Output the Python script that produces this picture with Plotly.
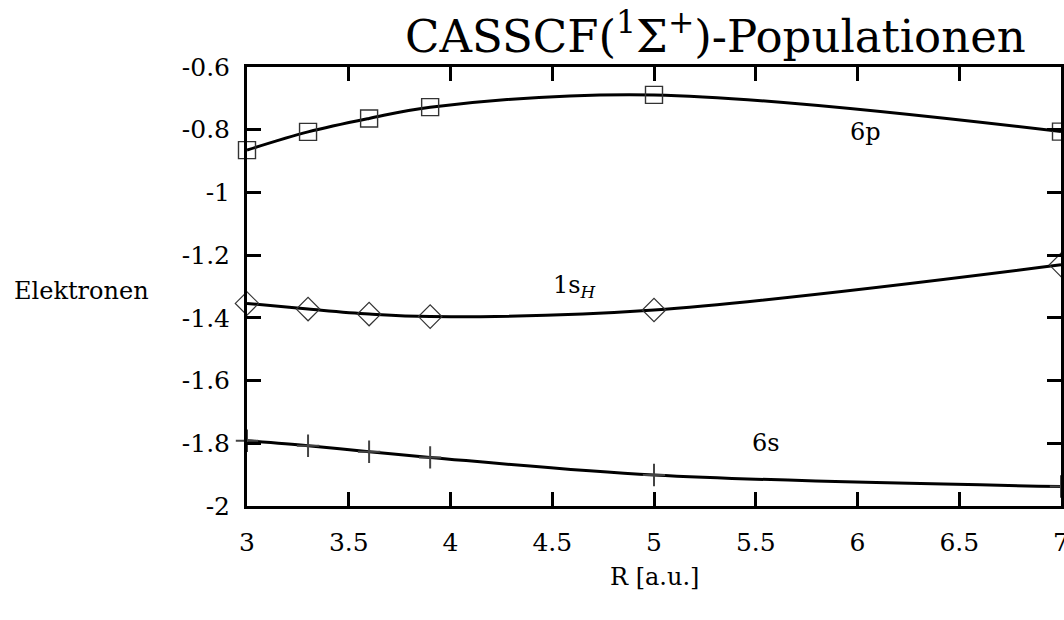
import plotly.graph_objects as go

# Bond distance R in atomic units
r_values = [3.0, 3.3, 3.6, 3.9, 5.0, 7.0]

# Orbital populations (electrons)
pop_6p = [-0.865, -0.807, -0.764, -0.728, -0.689, -0.806]
pop_1sH = [-1.354, -1.372, -1.388, -1.396, -1.375, -1.231]
pop_6s = [-1.792, -1.808, -1.827, -1.845, -1.901, -1.938]

x_ticks = [3, 3.5, 4, 4.5, 5, 5.5, 6, 6.5, 7]
x_tick_text = ["3", "3.5", "4", "4.5", "5", "5.5", "6", "6.5", "7"]
y_ticks = [-0.6, -0.8, -1.0, -1.2, -1.4, -1.6, -1.8, -2.0]
y_tick_text = ["-0.6", "-0.8", "-1", "-1.2", "-1.4", "-1.6", "-1.8", "-2"]

# Curve labels: (text, x, y)
curve_labels = [
    ("6p", 6.04, -0.807),
    ("1s<sub><i>H</i></sub>", 4.61, -1.301),
    ("6s", 5.55, -1.799),
]

FONT = "DejaVu Serif"

fig = go.Figure()

series = [
    (pop_6p, "square-open", 17, 1.4, "#333333"),
    (pop_1sH, "diamond-open", 18, 1.2, "#333333"),
    (pop_6s, "cross-thin-open", 16, 2.0, "#444444"),
]
for values, symbol, size, mlw, mcolor in series:
    fig.add_trace(go.Scatter(
        x=r_values, y=values,
        mode="lines",
        line=dict(color="black", width=3, shape="spline", smoothing=1.0),
        showlegend=False, hoverinfo="skip",
    ))
    fig.add_trace(go.Scatter(
        x=r_values, y=values,
        mode="markers",
        marker=dict(symbol=symbol, size=size, color=mcolor,
                    line=dict(color=mcolor, width=mlw)),
        cliponaxis=False,
        showlegend=False,
    ))

for text, lx, ly in curve_labels:
    fig.add_annotation(x=lx, y=ly, xref="x", yref="y", text=text,
                       showarrow=False, font=dict(family=FONT, size=24, color="black"))

fig.add_annotation(x=0.576, y=1.077, xref="paper", yref="paper",
                   text="CASSCF(<sup>1</sup>Σ<sup>+</sup>)-Populationen",
                   showarrow=False, xanchor="center", yanchor="middle",
                   font=dict(family=FONT, size=45, color="black"))
fig.add_annotation(x=-0.289, y=0.49, xref="paper", yref="paper",
                   text="Elektronen", showarrow=False,
                   xanchor="left", yanchor="middle",
                   font=dict(family=FONT, size=24, color="black"))
fig.add_annotation(x=0.5, y=-0.162, xref="paper", yref="paper",
                   text="R [a.u.]", showarrow=False,
                   xanchor="center", yanchor="middle",
                   font=dict(family=FONT, size=24, color="black"))

axis_common = dict(
    showline=True, linecolor="black", linewidth=3, mirror="ticks",
    ticks="inside", ticklen=14, tickwidth=3, tickcolor="black",
    showgrid=False, zeroline=False, automargin=False,
    ticklabeloverflow="allow",
    tickfont=dict(family=FONT, size=25, color="black"),
)

fig.update_xaxes(range=[3, 7], tickvals=x_ticks, ticktext=x_tick_text,
                 ticklabelstandoff=12, **axis_common)
fig.update_yaxes(range=[-2, -0.6], tickvals=y_ticks, ticktext=y_tick_text,
                 ticklabelstandoff=9, **axis_common)

fig.update_layout(
    width=1064, height=620,
    margin=dict(l=247, r=3, t=67, b=114, autoexpand=False),
    paper_bgcolor="white", plot_bgcolor="white",
    font=dict(family=FONT, color="black"),
)

fig.write_html("out.html")
